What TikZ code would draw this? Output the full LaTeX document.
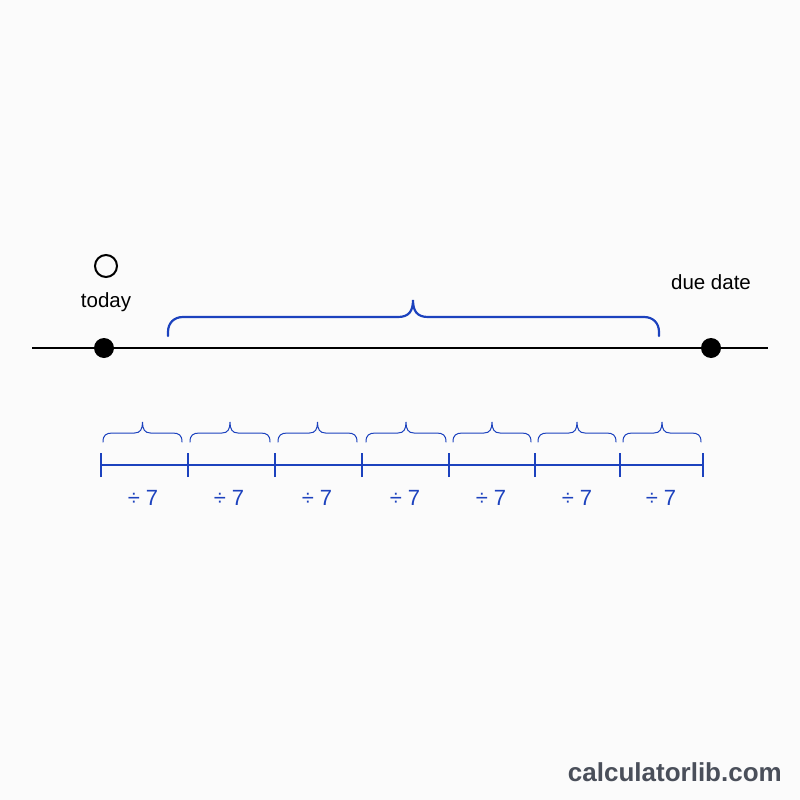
\documentclass[tikz,border=0pt]{standalone}
\usepackage{fontspec}
\setmainfont{Liberation Sans}
\definecolor{bblue}{RGB}{28,66,190}
\definecolor{wgray}{RGB}{74,79,90}
\definecolor{bg}{RGB}{251,251,251}
\begin{document}
\begin{tikzpicture}[x=1pt,y=-1pt,
  dot/.style={circle,fill=black,inner sep=0pt,minimum size=20pt},
  opendot/.style={circle,draw=black,line width=2pt,inner sep=0pt,minimum size=22pt},
  lbl/.style={font=\fontsize{20.5}{24}\selectfont,inner sep=0pt},
  divlbl/.style={font=\fontsize{22}{26}\selectfont,text=bblue,inner sep=0pt},
  bigbrace/.style={draw=bblue,line width=2.2pt,line cap=round},
  smallbrace/.style={draw=bblue,line width=1pt,line cap=round},
  seg/.style={draw=bblue,line width=2.6pt},
  tickmark/.style={draw=bblue,line width=2.6pt}
]
\fill[bg] (0,0) rectangle (800,800);
\useasboundingbox (0,0) rectangle (800,800);

% main timeline
\coordinate (L) at (32,348);
\coordinate (R) at (768,348);
\draw[line width=2pt] (L) -- (R);
\node[dot] (today) at (104,348) {};
\node[dot] (due) at (711,348) {};
\node[opendot] (open) at (106,266) {};
\node[lbl] (todaylbl) at (106,302) {today};
\node[lbl] (duelbl) at (711,282) {due date};

% big brace
\draw[bigbrace] (168,336) -- (168,332) .. controls (168,323) and (174,317) .. (183,317)
  -- (398,317) .. controls (409,317) and (413,311) .. (413,300)
  .. controls (413,311) and (417,317) .. (428,317)
  -- (644,317) .. controls (653,317) and (659,323) .. (659,332) -- (659,336);

% segments
\coordinate (t0) at (101,465);
\coordinate (t1) at (188,465);
\coordinate (t2) at (275,465);
\coordinate (t3) at (362,465);
\coordinate (t4) at (449,465);
\coordinate (t5) at (535,465);
\coordinate (t6) at (620,465);
\coordinate (t7) at (703,465);
\draw[seg] (t0) -- (t7);
\foreach \i in {0,...,7}{
  \draw[tickmark] ([yshift=-12pt]t\i) -- ([yshift=12pt]t\i);
}

% small braces
\foreach \a/\b [count=\k] in {103/182,190/270,278/357,366/446,453/531,538/616,623/701}{
  \pgfmathsetmacro{\m}{(\a+\b)/2}
  \draw[smallbrace] (\a,442) .. controls (\a,435) and (\a+3,433) .. (\a+10,433)
    -- (\m-8,433) .. controls (\m-2,433) and (\m,429) .. (\m,422)
    .. controls (\m,429) and (\m+2,433) .. (\m+8,433)
    -- (\b-10,433) .. controls (\b-3,433) and (\b,435) .. (\b,442);
}

% labels
\foreach \x [count=\k] in {143,229,317,405,491,577,661}{
  \node[divlbl] (d\k) at (\x,498) {÷ 7};
}

\node[font=\fontsize{26}{30}\selectfont\bfseries,text=wgray,anchor=east,inner sep=0pt] (wm) at (782,772) {calculatorlib.com};
\end{tikzpicture}
\end{document}
